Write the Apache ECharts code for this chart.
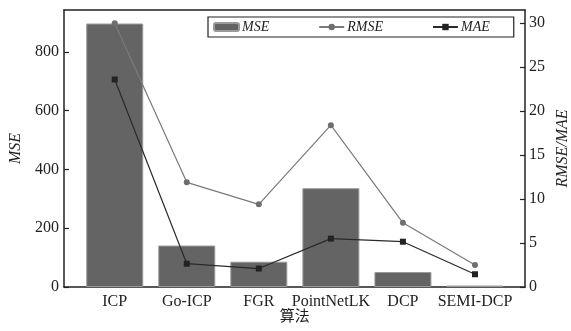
<!DOCTYPE html>
<html><head><meta charset="utf-8">
<script src="https://cdn.jsdelivr.net/npm/echarts@6/dist/echarts.min.js"></script>
<style>html,body{margin:0;padding:0;background:#fff}#c{width:571px;height:331px}</style>
</head><body><div id="c"></div>
<script>
const categories = ['ICP', 'Go-ICP', 'FGR', 'PointNetLK', 'DCP', 'SEMI-DCP'];
const mse = [896, 141, 86, 336, 51, 5];
const rmse = [30.0, 11.9, 9.4, 18.4, 7.3, 2.5];
const mae = [23.6, 2.65, 2.1, 5.5, 5.15, 1.45];
const leftMax = 942, rightMax = 31.5;

const serif = 'Liberation Serif';
const axisColor = '#222';
const chart = echarts.init(document.getElementById('c'), null, {renderer: 'canvas'});
chart.setOption({
  animation: false,
  backgroundColor: '#fff',
  grid: [
    {left: 64, right: 46, top: 10, bottom: 44, outerBoundsMode: 'none', containLabel: false},
    {left: 78.7, right: 60, top: 10, bottom: 44, outerBoundsMode: 'none', containLabel: false}
  ],
  legend: {
    left: 208, top: 17,
    padding: [3, 24, 3, 5],
    borderColor: '#222', borderWidth: 1.2,
    itemWidth: 25, itemHeight: 8, itemGap: 49,
    textStyle: {fontFamily: serif, fontStyle: 'italic', fontSize: 14, color: '#222', padding: [0,0,0,-2]},
    data: ['MSE', 'RMSE', 'MAE']
  },
  xAxis: [
    {gridIndex: 1, type: 'category', data: categories,
     axisLine: {show: false}, axisTick: {show: false},
     axisLabel: {fontFamily: serif, fontSize: 16, color: '#222', margin: 7, interval: 0},
     name: '算法', nameLocation: 'middle', nameGap: 21, nameMoveOverlap: false,
     nameTextStyle: {fontFamily: 'Noto Sans CJK SC', fontSize: 15, color: '#222', verticalAlign: 'top'}},
    {gridIndex: 0, type: 'value', position: 'bottom', min: 0, max: 1,
     axisLine: {show: true, onZero: false, lineStyle: {color: axisColor, width: 1.5}},
     axisTick: {show: false}, axisLabel: {show: false}, splitLine: {show: false}},
    {gridIndex: 0, type: 'value', position: 'top', min: 0, max: 1,
     axisLine: {show: true, onZero: false, lineStyle: {color: axisColor, width: 1.5}},
     axisTick: {show: false}, axisLabel: {show: false}, splitLine: {show: false}}
  ],
  yAxis: [
    {gridIndex: 0, type: 'value', position: 'left', min: 0, max: leftMax, interval: 200,
     axisLine: {show: true, onZero: false, lineStyle: {color: axisColor, width: 1.5}},
     axisTick: {show: true, inside: true, length: 5, lineStyle: {color: axisColor, width: 1.2}},
     axisLabel: {fontFamily: serif, fontSize: 16, color: '#222', margin: 5, showMaxLabel: false},
     splitLine: {show: false},
     name: 'MSE', nameLocation: 'middle', nameGap: 40, nameMoveOverlap: false,
     nameTextStyle: {fontFamily: serif, fontStyle: 'italic', fontSize: 16, color: '#222'}},
    {gridIndex: 0, type: 'value', position: 'right', min: 0, max: rightMax, interval: 5,
     axisLine: {show: true, onZero: false, lineStyle: {color: axisColor, width: 1.5}},
     axisTick: {show: true, inside: true, length: 5, lineStyle: {color: axisColor, width: 1.2}},
     axisLabel: {fontFamily: serif, fontSize: 16, color: '#222', margin: 4, showMaxLabel: false},
     splitLine: {show: false},
     name: 'RMSE/MAE', nameLocation: 'middle', nameGap: 30, nameRotate: 90, nameMoveOverlap: false,
     nameTextStyle: {fontFamily: serif, fontStyle: 'italic', fontSize: 16, color: '#222'}},
    {gridIndex: 1, type: 'value', min: 0, max: leftMax, show: false},
    {gridIndex: 1, type: 'value', min: 0, max: rightMax, show: false}
  ],
  series: [
    {name: 'MSE', type: 'bar', xAxisIndex: 0, yAxisIndex: 2, data: mse, barWidth: 57,
     itemStyle: {color: '#646464', borderColor: '#9a9a9a', borderWidth: 1}},
    {name: 'RMSE', type: 'line', xAxisIndex: 0, yAxisIndex: 3, data: rmse,
     symbol: 'circle', symbolSize: 6,
     lineStyle: {color: '#7a7a7a', width: 1.2}, itemStyle: {color: '#6e6e6e'}},
    {name: 'MAE', type: 'line', xAxisIndex: 0, yAxisIndex: 3, data: mae,
     symbol: 'rect', symbolSize: 6,
     lineStyle: {color: '#2a2a2a', width: 1.2}, itemStyle: {color: '#222'}}
  ]
});
</script></body></html>
